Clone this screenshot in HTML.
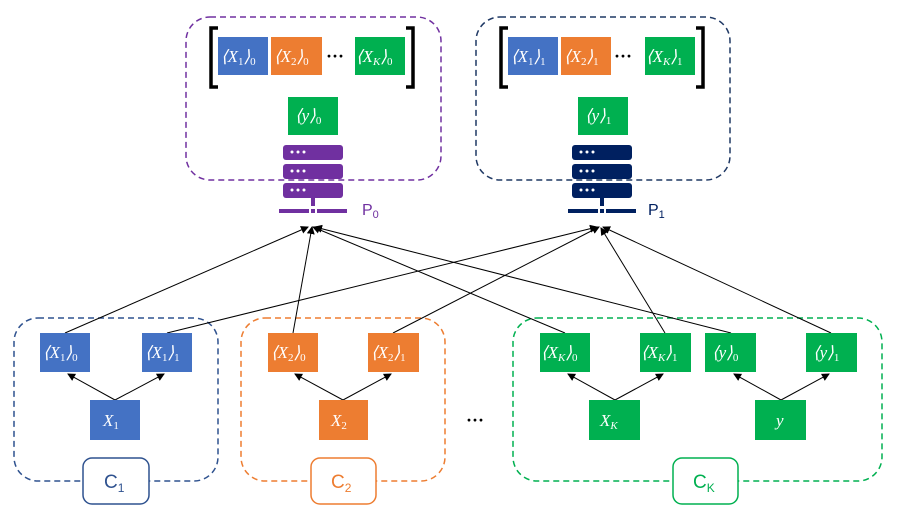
<!DOCTYPE html>
<html><head><meta charset="utf-8"><style>body{margin:0;background:#fff}svg{display:block}text{font-family:"Liberation Serif",serif;font-style:italic;fill:#fff}</style></head><body>
<svg width="897" height="511" viewBox="0 0 897 511" xmlns="http://www.w3.org/2000/svg">
<defs><marker id="a" markerWidth="8" markerHeight="8" refX="7" refY="4" orient="auto" markerUnits="userSpaceOnUse"><path d="M0,0 L8,4 L0,8 z" fill="#000"/></marker></defs>
<rect x="186" y="17" width="255" height="163" rx="24" fill="none" stroke="#7030a0" stroke-width="1.5" stroke-dasharray="6,4"/>
<rect x="476" y="17" width="254" height="163" rx="24" fill="none" stroke="#1f3864" stroke-width="1.5" stroke-dasharray="6,4"/>
<rect x="14" y="318" width="204" height="163" rx="24" fill="none" stroke="#2f528f" stroke-width="1.5" stroke-dasharray="6,4"/>
<rect x="241" y="318" width="204" height="163" rx="24" fill="none" stroke="#ed7d31" stroke-width="1.5" stroke-dasharray="6,4"/>
<rect x="513" y="318" width="369" height="163" rx="24" fill="none" stroke="#00b050" stroke-width="1.5" stroke-dasharray="6,4"/>
<g font-size="17">
<path d="M218,28 H211 V87 H218 M406,28 H413 V87 H406" fill="none" stroke="#000" stroke-width="3.5"/>
<rect x="218" y="37" width="50" height="38" fill="#4472c4"/><text x="221" y="62">⟨X<tspan font-size="11" dy="3" font-style="normal">1</tspan><tspan dy="-3">⟩</tspan><tspan font-size="11" dy="3" font-style="normal">0</tspan></text>
<rect x="271" y="37" width="51" height="38" fill="#ed7d31"/><text x="274" y="62">⟨X<tspan font-size="11" dy="3" font-style="normal">2</tspan><tspan dy="-3">⟩</tspan><tspan font-size="11" dy="3" font-style="normal">0</tspan></text>
<text x="326" y="62" style="fill:#000;font-style:normal;font-weight:bold" font-size="18">···</text>
<rect x="355" y="37" width="50" height="38" fill="#00b050"/><text x="356" y="62">⟨X<tspan font-size="11" dy="3">K</tspan><tspan dy="-3">⟩</tspan><tspan font-size="11" dy="3" font-style="normal">0</tspan></text>
<rect x="288" y="97" width="50" height="38" fill="#00b050"/><text x="295" y="121">⟨y⟩<tspan font-size="11" dy="3" font-style="normal">0</tspan></text>
<path d="M508,28 H501 V87 H508 M696,28 H703 V87 H696" fill="none" stroke="#000" stroke-width="3.5"/>
<rect x="508" y="37" width="50" height="38" fill="#4472c4"/><text x="511" y="62">⟨X<tspan font-size="11" dy="3" font-style="normal">1</tspan><tspan dy="-3">⟩</tspan><tspan font-size="11" dy="3" font-style="normal">1</tspan></text>
<rect x="561" y="37" width="50" height="38" fill="#ed7d31"/><text x="564" y="62">⟨X<tspan font-size="11" dy="3" font-style="normal">2</tspan><tspan dy="-3">⟩</tspan><tspan font-size="11" dy="3" font-style="normal">1</tspan></text>
<text x="614" y="62" style="fill:#000;font-style:normal;font-weight:bold" font-size="18">···</text>
<rect x="645" y="37" width="50" height="38" fill="#00b050"/><text x="646" y="62">⟨X<tspan font-size="11" dy="3">K</tspan><tspan dy="-3">⟩</tspan><tspan font-size="11" dy="3" font-style="normal">1</tspan></text>
<rect x="578" y="97" width="50" height="38" fill="#00b050"/><text x="585" y="121">⟨y⟩<tspan font-size="11" dy="3" font-style="normal">1</tspan></text>
</g>
<g fill="#7030a0">
<rect x="283" y="145" width="60" height="15" rx="3"/><rect x="283" y="164" width="60" height="15" rx="3"/><rect x="283" y="183" width="60" height="15" rx="3"/>
<rect x="311" y="198" width="4" height="8"/><rect x="279" y="209" width="30" height="4"/><rect x="311" y="209" width="4" height="4"/><rect x="317" y="209" width="30" height="4"/>
</g>
<g fill="#002060">
<rect x="572" y="145" width="60" height="15" rx="3"/><rect x="572" y="164" width="60" height="15" rx="3"/><rect x="572" y="183" width="60" height="15" rx="3"/>
<rect x="600" y="198" width="4" height="8"/><rect x="568" y="209" width="30" height="4"/><rect x="600" y="209" width="4" height="4"/><rect x="606" y="209" width="30" height="4"/>
</g>
<g fill="#fff"><circle cx="292" cy="152" r="1.5"/><circle cx="298" cy="152" r="1.5"/><circle cx="304" cy="152" r="1.5"/><circle cx="292" cy="171" r="1.5"/><circle cx="298" cy="171" r="1.5"/><circle cx="304" cy="171" r="1.5"/><circle cx="292" cy="190" r="1.5"/><circle cx="298" cy="190" r="1.5"/><circle cx="304" cy="190" r="1.5"/>
<circle cx="581" cy="152" r="1.5"/><circle cx="587" cy="152" r="1.5"/><circle cx="593" cy="152" r="1.5"/><circle cx="581" cy="171" r="1.5"/><circle cx="587" cy="171" r="1.5"/><circle cx="593" cy="171" r="1.5"/><circle cx="581" cy="190" r="1.5"/><circle cx="587" cy="190" r="1.5"/><circle cx="593" cy="190" r="1.5"/></g>
<text x="362" y="215" style="fill:#7030a0;font-family:'Liberation Sans',sans-serif;font-style:normal" font-size="16">P<tspan font-size="11" dy="3">0</tspan></text>
<text x="648" y="215" style="fill:#002060;font-family:'Liberation Sans',sans-serif;font-style:normal" font-size="16">P<tspan font-size="11" dy="3">1</tspan></text>
<g stroke="#000" stroke-width="1" marker-end="url(#a)">
<line x1="65" y1="333" x2="308" y2="227"/>
<line x1="293" y1="333" x2="312" y2="227"/>
<line x1="565" y1="333" x2="313" y2="227"/>
<line x1="731" y1="333" x2="315" y2="227"/>
<line x1="167" y1="333" x2="597" y2="227"/>
<line x1="393" y1="333" x2="599" y2="227"/>
<line x1="665" y1="333" x2="601" y2="228"/>
<line x1="831" y1="333" x2="603" y2="227"/>
<line x1="115" y1="400" x2="68" y2="374"/><line x1="115" y1="400" x2="164" y2="374"/>
<line x1="343" y1="400" x2="295" y2="374"/><line x1="343" y1="400" x2="391" y2="374"/>
<line x1="615" y1="400" x2="568" y2="374"/><line x1="615" y1="400" x2="663" y2="374"/>
<line x1="781" y1="400" x2="734" y2="374"/><line x1="781" y1="400" x2="829" y2="374"/>
</g>
<g font-size="17">
<rect x="40" y="333" width="50" height="39" fill="#4472c4"/><text x="43" y="358">⟨X<tspan font-size="11" dy="3" font-style="normal">1</tspan><tspan dy="-3">⟩</tspan><tspan font-size="11" dy="3" font-style="normal">0</tspan></text>
<rect x="142" y="333" width="50" height="39" fill="#4472c4"/><text x="145" y="358">⟨X<tspan font-size="11" dy="3" font-style="normal">1</tspan><tspan dy="-3">⟩</tspan><tspan font-size="11" dy="3" font-style="normal">1</tspan></text>
<rect x="90" y="400" width="50" height="40" fill="#4472c4"/><text x="103" y="426">X<tspan font-size="11" dy="3" font-style="normal">1</tspan></text>
<rect x="268" y="333" width="50" height="39" fill="#ed7d31"/><text x="271" y="358">⟨X<tspan font-size="11" dy="3" font-style="normal">2</tspan><tspan dy="-3">⟩</tspan><tspan font-size="11" dy="3" font-style="normal">0</tspan></text>
<rect x="368" y="333" width="51" height="39" fill="#ed7d31"/><text x="371" y="358">⟨X<tspan font-size="11" dy="3" font-style="normal">2</tspan><tspan dy="-3">⟩</tspan><tspan font-size="11" dy="3" font-style="normal">1</tspan></text>
<rect x="319" y="400" width="49" height="40" fill="#ed7d31"/><text x="331" y="426">X<tspan font-size="11" dy="3" font-style="normal">2</tspan></text>
<rect x="540" y="333" width="50" height="39" fill="#00b050"/><text x="541" y="358">⟨X<tspan font-size="11" dy="3">K</tspan><tspan dy="-3">⟩</tspan><tspan font-size="11" dy="3" font-style="normal">0</tspan></text>
<rect x="640" y="333" width="51" height="39" fill="#00b050"/><text x="641" y="358">⟨X<tspan font-size="11" dy="3">K</tspan><tspan dy="-3">⟩</tspan><tspan font-size="11" dy="3" font-style="normal">1</tspan></text>
<rect x="705" y="333" width="51" height="39" fill="#00b050"/><text x="712" y="358">⟨y⟩<tspan font-size="11" dy="3" font-style="normal">0</tspan></text>
<rect x="806" y="333" width="51" height="39" fill="#00b050"/><text x="813" y="358">⟨y⟩<tspan font-size="11" dy="3" font-style="normal">1</tspan></text>
<rect x="589" y="400" width="51" height="40" fill="#00b050"/><text x="600" y="426">X<tspan font-size="11" dy="3">K</tspan></text>
<rect x="755" y="400" width="51" height="40" fill="#00b050"/><text x="776" y="426">y</text>
</g>
<text x="466" y="426" style="fill:#000;font-style:normal;font-weight:bold" font-size="18">···</text>
<rect x="83" y="458" width="66" height="46" rx="9" fill="#fff" stroke="#2f528f" stroke-width="1.5"/>
<text x="104" y="488" style="fill:#2f528f;font-family:'Liberation Sans',sans-serif;font-style:normal" font-size="19">C<tspan font-size="12" dy="4">1</tspan></text>
<rect x="311" y="458" width="65" height="46" rx="9" fill="#fff" stroke="#ed7d31" stroke-width="1.5"/>
<text x="331" y="488" style="fill:#ed7d31;font-family:'Liberation Sans',sans-serif;font-style:normal" font-size="19">C<tspan font-size="12" dy="4">2</tspan></text>
<rect x="673" y="458" width="65" height="46" rx="9" fill="#fff" stroke="#00b050" stroke-width="1.5"/>
<text x="693" y="488" style="fill:#00b050;font-family:'Liberation Sans',sans-serif;font-style:normal" font-size="19">C<tspan font-size="12" dy="4">K</tspan></text>
</svg>
</body></html>
